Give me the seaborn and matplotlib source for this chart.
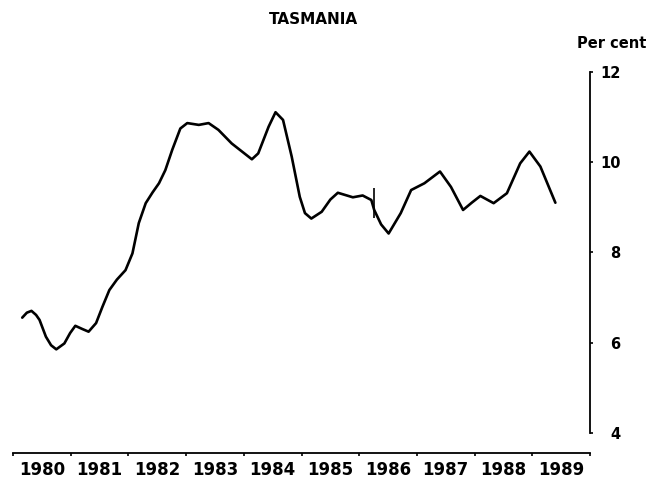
import numpy as np
import pandas as pd
import matplotlib
matplotlib.use('Agg')
import matplotlib.pyplot as plt
import seaborn as sns

# Values (decimal year, per cent)
years = [1980.16, 1980.24, 1980.32, 1980.40, 1980.46, 1980.57, 1980.66, 1980.75,
         1980.89, 1980.99, 1981.08, 1981.20, 1981.31, 1981.44, 1981.55, 1981.67,
         1981.80, 1981.95, 1982.07, 1982.18, 1982.30, 1982.42, 1982.53, 1982.64,
         1982.76, 1982.90, 1983.02, 1983.22, 1983.39, 1983.56, 1983.79, 1983.97,
         1984.14, 1984.25, 1984.43, 1984.55, 1984.68, 1984.83, 1984.97, 1985.06,
         1985.17, 1985.35, 1985.50, 1985.63, 1985.89, 1986.06, 1986.21, 1986.26,
         1986.38, 1986.51, 1986.72, 1986.90, 1987.13, 1987.40, 1987.59, 1987.80,
         1987.95, 1988.10, 1988.33, 1988.56, 1988.79, 1988.95, 1989.14, 1989.40]
rate = [6.56, 6.67, 6.71, 6.62, 6.51, 6.14, 5.95, 5.86,
        5.99, 6.22, 6.38, 6.31, 6.25, 6.44, 6.80, 7.17,
        7.40, 7.61, 7.98, 8.65, 9.09, 9.33, 9.53, 9.82,
        10.27, 10.74, 10.86, 10.82, 10.86, 10.71, 10.41, 10.23,
        10.06, 10.19, 10.78, 11.10, 10.93, 10.12, 9.23, 8.87,
        8.75, 8.90, 9.17, 9.32, 9.22, 9.26, 9.16, 8.94,
        8.62, 8.42, 8.87, 9.38, 9.53, 9.79, 9.45, 8.94,
        9.10, 9.25, 9.09, 9.31, 9.97, 10.23, 9.90, 9.10]

# series break marker
break_year = 1986.26
break_low, break_high = 8.76, 9.43

year_labels = [str(y) for y in range(1980, 1990)]
y_ticks = [4, 6, 8, 10, 12]

sns.set_style('white')
plt.rcParams['font.family'] = ['DejaVu Sans']
plt.rcParams['font.weight'] = 'bold'
plt.rcParams['text.color'] = 'black'
plt.rcParams['xtick.color'] = 'black'
plt.rcParams['ytick.color'] = 'black'

df = pd.DataFrame({'year': years, 'rate': rate})

fig = plt.figure(figsize=(6.5, 4.79), dpi=100)
ax = fig.add_axes([13 / 650, 1 - 453 / 479, 577 / 650, (453 - 71.5) / 479])

sns.lineplot(data=df, x='year', y='rate', color='black', linewidth=1.9,
             sort=False, ax=ax, solid_joinstyle='round', solid_capstyle='round')
ax.vlines(break_year, break_low, break_high, color='black', linewidth=1.2)

ax.set_xlim(1980, 1990)
ax.set_ylim(3.569, 12)
ax.set_xlabel('')
ax.set_ylabel('')

# spines: bottom and right only
for side in ['top', 'left']:
    ax.spines[side].set_visible(False)
for side in ['bottom', 'right']:
    ax.spines[side].set_visible(True)
    ax.spines[side].set_color('black')
    ax.spines[side].set_linewidth(1.3)
ax.spines['right'].set_bounds(4, 12)

# x axis: ticks at year boundaries, labels centred in each year
ax.set_xticks(range(1980, 1991))
ax.set_xticklabels([])
ax.set_xticks([y + 0.5 for y in range(1980, 1990)], minor=True)
ax.set_xticklabels(year_labels, minor=True, fontsize=12, fontweight='bold')
ax.tick_params(axis='x', which='major', direction='out', length=2.5, width=1.2,
               bottom=True)
ax.tick_params(axis='x', which='minor', length=0, pad=6)

# y axis on the right
ax.yaxis.tick_right()
ax.set_yticks(y_ticks)
ax.set_yticklabels([str(v) for v in y_ticks], fontsize=10.5, fontweight='bold')
ax.tick_params(axis='y', direction='out', length=2.5, width=1.2, pad=19.5,
               left=False, right=True)
for lab in ax.get_yticklabels():
    lab.set_horizontalalignment('right')

fig.text(313 / 650, 1 - 19 / 479, 'TASMANIA', ha='center', va='center',
         fontsize=11, fontweight='bold', color='black')
fig.text(612 / 650, 1 - 44 / 479, 'Per cent', ha='center', va='center',
         fontsize=10.5, fontweight='bold', color='black')

fig.savefig('out.png', dpi=100, facecolor='white')
